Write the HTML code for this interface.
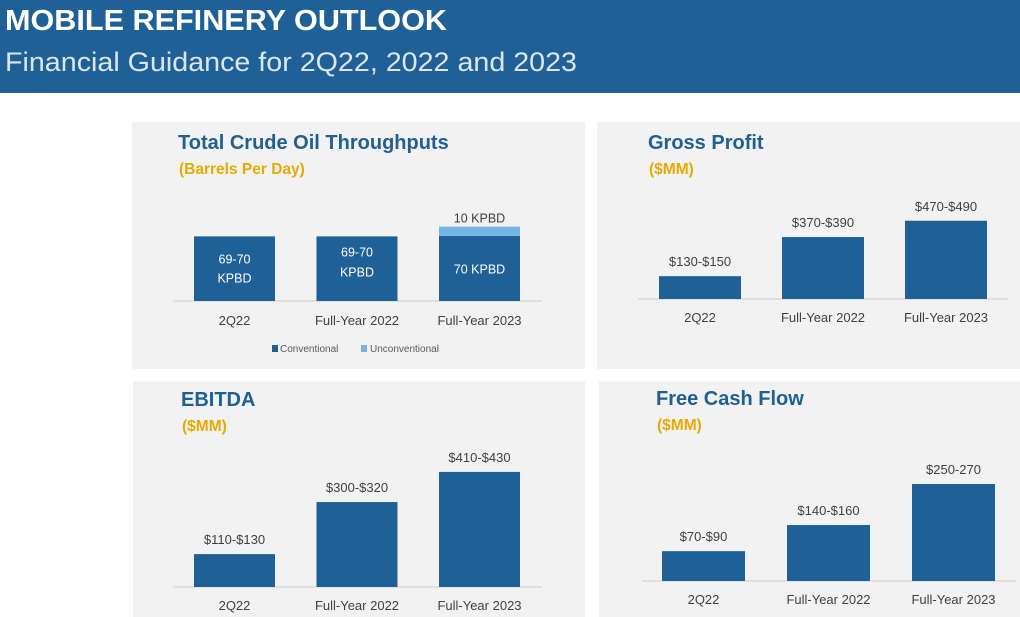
<!DOCTYPE html>
<html><head><meta charset="utf-8"><style>
html,body{margin:0;padding:0;background:#fff;width:1020px;height:617px;overflow:hidden}
svg{display:block;font-family:"Liberation Sans",sans-serif}
</style></head><body>
<svg id="s" width="1020" height="617" viewBox="0 0 1020 617" xmlns="http://www.w3.org/2000/svg">
<rect x="0" y="0" width="1020" height="93" fill="#1f6196"/>
<text x="5" y="30" font-size="29" font-weight="bold" fill="#fff" textLength="442" lengthAdjust="spacingAndGlyphs">MOBILE REFINERY OUTLOOK</text>
<text x="5" y="71" font-size="27" fill="#dce6f0" textLength="572" lengthAdjust="spacingAndGlyphs">Financial Guidance for 2Q22, 2022 and 2023</text>
</svg>
<script>
const categories = ["2Q22","Full-Year 2022","Full-Year 2023"];
const throughputConventional = [69.5, 69.5, 70];
const throughputUnconventional = [0, 0, 10];
const throughputLabels = ["69-70|KPBD","69-70|KPBD","70 KPBD"];
const grossProfit = [140, 380, 480];
const grossProfitLabels = ["$130-$150","$370-$390","$470-$490"];
const ebitda = [120, 310, 420];
const ebitdaLabels = ["$110-$130","$300-$320","$410-$430"];
const freeCashFlow = [80, 150, 260];
const freeCashFlowLabels = ["$70-$90","$140-$160","$250-270"];

const svg = document.getElementById('s');
const NS = 'http://www.w3.org/2000/svg';
function mk(tag, attrs, text){
  const e = document.createElementNS(NS, tag);
  for (const k in attrs) e.setAttribute(k, attrs[k]);
  if (text !== undefined) e.textContent = text;
  svg.appendChild(e);
  return e;
}
const BAR='#1f6196', LIGHT='#75b5e6', TXT='#404040';

function panel(p){
  const r = mk('rect',{x:p.x,y:p.y,width:p.w,height:p.h,fill:'#f2f2f2'});
  
  
  const t = mk('text',{x:p.tx,y:p.ty,'font-size':20,'font-weight':'bold',fill:'#1f5f94'},p.title);
  
  
  const st = mk('text',{x:p.tx+1,y:p.ty+25,'font-size':15.5,'font-weight':'bold',fill:'#e8a900'},p.sub);
  
  
  const ax = mk('line',{x1:p.ax1,x2:p.ax2,y1:p.base,y2:p.base,stroke:'#d9d9d9','stroke-width':1.5});
  
  
}
function xBar(p,i){ return p.x0 + i*p.step; }
function yScale(p,v){ return p.base - v*p.k; }

function simpleChart(p, vals, labels){
  panel(p);
  vals.forEach((v,i)=>{
    const x = xBar(p,i), y = yScale(p,v);
    const b = mk('rect',{x:x,y:y,width:p.bw,height:p.base-y,fill:BAR});
    
    
    const l = mk('text',{x:x+p.bw/2,y:y-10,'font-size':13,fill:TXT,'text-anchor':'middle'},labels[i]);
    
    
    const c = mk('text',{x:x+p.bw/2,y:p.base+23,'font-size':13,fill:TXT,'text-anchor':'middle'},categories[i]);
    
    
  });
}

// Throughput chart
const tp = {name:'throughput',x:132,y:122,w:453,h:247,tx:178,ty:149,title:'Total Crude Oil Throughputs',sub:'(Barrels Per Day)',ax1:173,ax2:542,base:301,x0:194,step:122.5,bw:81,k:0.93};
panel(tp);
throughputConventional.forEach((v,i)=>{
  const x = xBar(tp,i), y = yScale(tp,v);
  const b = mk('rect',{x:x,y:y,width:tp.bw,height:tp.base-y,fill:BAR});
  
  
  const u = throughputUnconventional[i];
  if (u>0){
    const y2 = yScale(tp,v+u);
    const b2 = mk('rect',{x:x,y:y2,width:tp.bw,height:y-y2,fill:LIGHT});
    
    
    const l2 = mk('text',{x:x+tp.bw/2,y:y2-4,'font-size':12.5,fill:TXT,'text-anchor':'middle'},u+' KPBD');
    
    
  }
  const parts = throughputLabels[i].split('|');
  const cy = (y+tp.base)/2;
  parts.forEach((s,j)=>{
    const off = parts.length===1 ? 5 : (i===1 ? -12+j*20 : -5+j*19);
    const l = mk('text',{x:x+tp.bw/2,y:cy+off,'font-size':12.5,fill:'#fff','text-anchor':'middle'},s);
    
    
  });
  const c = mk('text',{x:x+tp.bw/2,y:tp.base+24,'font-size':13,fill:TXT,'text-anchor':'middle'},categories[i]);
  
  
});
const lg1 = mk('rect',{x:272,y:345,width:6,height:7,fill:BAR});


const lt1 = mk('text',{x:280,y:352,'font-size':10,fill:'#595959'},'Conventional');


const lg2 = mk('rect',{x:361,y:345,width:6,height:7,fill:LIGHT});


const lt2 = mk('text',{x:370,y:352,'font-size':10,fill:'#595959'},'Unconventional');



simpleChart({name:'gross-profit',x:597,y:122,w:423,h:247,tx:648,ty:149,title:'Gross Profit',sub:'($MM)',ax1:638,ax2:1008,base:299,x0:659,step:123,bw:82,k:0.163}, grossProfit, grossProfitLabels);
simpleChart({name:'ebitda',x:133,y:381,w:452,h:236,tx:181,ty:406,title:'EBITDA',sub:'($MM)',ax1:173,ax2:542,base:587,x0:194,step:122.5,bw:81,k:0.274}, ebitda, ebitdaLabels);
simpleChart({name:'free-cash-flow',x:599,y:381,w:421,h:236,tx:656,ty:405,title:'Free Cash Flow',sub:'($MM)',ax1:642,ax2:1016,base:581,x0:662,step:125,bw:83,k:0.373}, freeCashFlow, freeCashFlowLabels);
</script>
</body></html>
